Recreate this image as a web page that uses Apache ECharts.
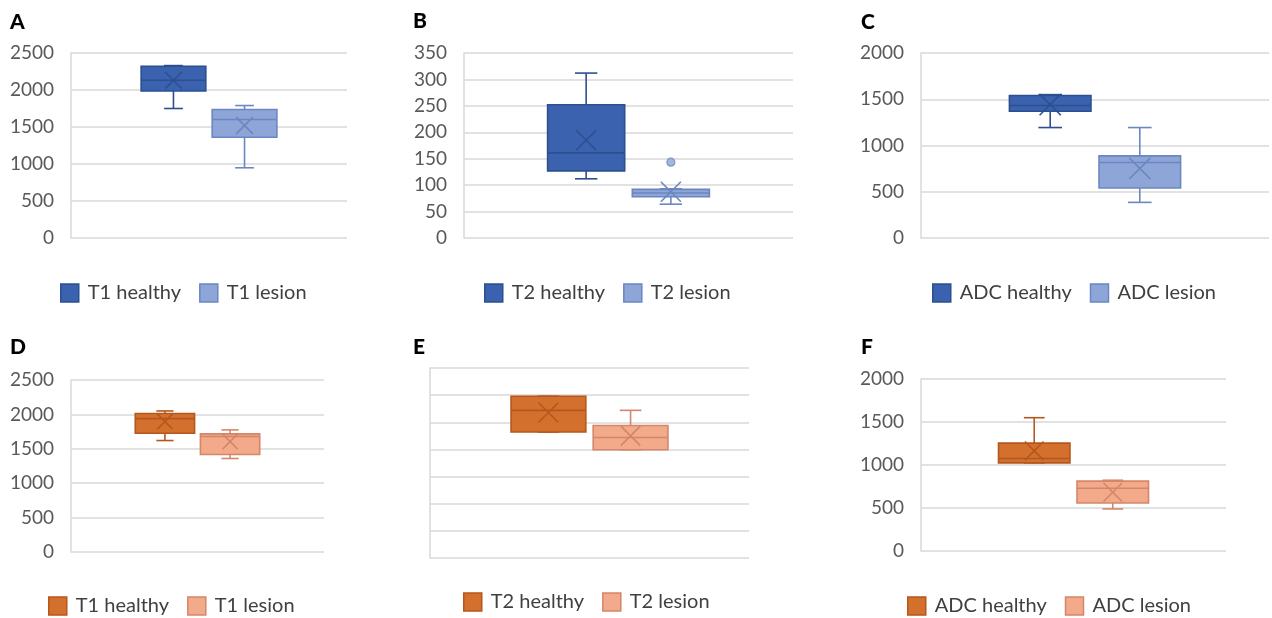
<!DOCTYPE html>
<html>
<head>
<meta charset="utf-8">
<script src="https://cdn.jsdelivr.net/npm/echarts@6/dist/echarts.min.js"></script>
<style>
  html, body { margin: 0; padding: 0; background: #ffffff; }
  #chart { width: 1272px; height: 618px; }
</style>
</head>
<body>
<div id="chart"></div>
<script>
// ---------------- DATA ----------------
const panelLabels = ['A', 'B', 'C', 'D', 'E', 'F'];
const seriesNames = [
  ['T1 healthy', 'T1 lesion'],
  ['T2 healthy', 'T2 lesion'],
  ['ADC healthy', 'ADC lesion'],
  ['T1 healthy', 'T1 lesion'],
  ['T2 healthy', 'T2 lesion'],
  ['ADC healthy', 'ADC lesion']
];
// each box: [min, Q1, median, Q3, max, mean]
const healthyStats = [
  [1750, 1987, 2131, 2320, 2330, 2130],
  [112, 127, 161, 252, 312, 185],
  [1194, 1370, 1432, 1540, 1550, 1442],
  [1620, 1726, 1939, 2012, 2050, 1896],
  [232, 232, 272, 298, 298, 268],
  [1025, 1025, 1076, 1254, 1550, 1165]
];
const lesionStats = [
  [949, 1362, 1601, 1736, 1790, 1520],
  [64, 78, 85, 92, 93, 87.5],
  [385, 540, 817, 888, 1194, 752],
  [1359, 1417, 1678, 1717, 1775, 1605],
  [199.5, 199.5, 222, 244, 272, 225],
  [489, 559, 730, 812, 823, 683]
];
// outliers per panel (lesion series)
const lesionOutliers = [[], [143.5], [], [], [], []];
// y axis ticks
const yMax = [2500, 350, 2000, 2500, 350, 2000];
const yStep = [500, 50, 500, 500, 50, 500];
const showYLabels = [true, true, true, true, false, true];

// ---------------- STYLE / LAYOUT ----------------
const FONT = 'Lato, "Open Sans", sans-serif';
const blue = {
  healthy: { fill: '#3a62ae', stroke: '#2d4f90' },
  lesion: { fill: '#8ea5d8', stroke: '#6b86c0' }
};
const orange = {
  healthy: { fill: '#d4702e', stroke: '#b4571c' },
  lesion: { fill: '#f2aa8a', stroke: '#d4866a' }
};
const palettes = [blue, blue, blue, orange, orange, orange];
// plot rectangles [left, right, top, bottom]
const plots = [
  [71, 347, 53, 238],
  [464, 793, 53, 238],
  [921, 1269, 53, 238],
  [71, 324, 380, 552],
  [430, 749, 368, 558],
  [921, 1226, 379, 551]
];
const titlePos = [[10, 12], [413, 11], [861, 12], [10, 337], [413, 337], [861, 337]];
const legendPos = [[60, 283], [484, 283], [932, 283], [48, 596], [463, 592], [907, 596]];

const BOX_SPAN = 0.515;  // fraction of plot width used by the two boxes
const BOX_RATIO = 0.91;  // box width relative to band

function makeRenderer(fill, stroke) {
  return function (params, api) {
    const cat = api.value(0);
    const band = api.size([1, 0])[0];
    const w = band * BOX_RATIO;
    const cx = api.coord([cat, 0])[0];
    const y = (v) => api.coord([cat, v])[1];
    const yMin = y(api.value(1)), yQ1 = y(api.value(2)), yMed = y(api.value(3));
    const yQ3 = y(api.value(4)), yMx = y(api.value(5)), yMean = y(api.value(6));
    const cap = w * 0.29;
    const xs = w * 0.13;
    const ls = { stroke: stroke, lineWidth: 1.6, fill: null };
    return {
      type: 'group',
      children: [
        { type: 'line', shape: { x1: cx, y1: yQ1, x2: cx, y2: yMin }, style: ls },
        { type: 'line', shape: { x1: cx, y1: yQ3, x2: cx, y2: yMx }, style: ls },
        { type: 'line', shape: { x1: cx - cap / 2, y1: yMin, x2: cx + cap / 2, y2: yMin }, style: ls },
        { type: 'line', shape: { x1: cx - cap / 2, y1: yMx, x2: cx + cap / 2, y2: yMx }, style: ls },
        { type: 'rect', shape: { x: cx - w / 2, y: yQ3, width: w, height: yQ1 - yQ3 },
          style: { fill: fill, stroke: stroke, lineWidth: 1.6 } },
        { type: 'line', shape: { x1: cx - w / 2, y1: yMed, x2: cx + w / 2, y2: yMed }, style: ls },
        { type: 'line', shape: { x1: cx - xs, y1: yMean - xs, x2: cx + xs, y2: yMean + xs }, style: ls },
        { type: 'line', shape: { x1: cx - xs, y1: yMean + xs, x2: cx + xs, y2: yMean - xs }, style: ls }
      ]
    };
  };
}

const grid = [], xAxis = [], yAxis = [], series = [], title = [], legend = [];

plots.forEach(function (p, i) {
  const [l, r, t, b] = p;
  const pw = r - l;
  const pal = palettes[i];
  // visible grid
  grid.push({ left: l, top: t, width: pw, height: b - t, containLabel: false });
  xAxis.push({ type: 'category', gridIndex: 2 * i, data: [''], axisLine: { show: false },
    axisTick: { show: false }, axisLabel: { show: false } });
  yAxis.push({ type: 'value', gridIndex: 2 * i, min: 0, max: yMax[i], interval: yStep[i],
    axisLine: { show: true, lineStyle: { color: '#d9d9d9', width: 1.5 } },
    axisTick: { show: false },
    axisLabel: { show: showYLabels[i], color: '#595959', fontSize: 19, fontFamily: FONT, margin: 17,
      formatter: function (v) { return String(v); } },
    splitLine: { show: true, lineStyle: { color: '#d9d9d9', width: 1.5 } } });
  // box grid
  const boxLeft = l + pw * (0.5 - BOX_SPAN / 2);
  grid.push({ left: boxLeft, top: t, width: pw * BOX_SPAN, height: b - t, containLabel: false });
  xAxis.push({ type: 'category', gridIndex: 2 * i + 1, data: ['healthy', 'lesion'], show: false });
  yAxis.push({ type: 'value', gridIndex: 2 * i + 1, min: 0, max: yMax[i], interval: yStep[i], show: false,
    splitLine: { show: false } });

  series.push({
    type: 'custom', name: seriesNames[i][0], xAxisIndex: 2 * i + 1, yAxisIndex: 2 * i + 1,
    itemStyle: { color: pal.healthy.fill, borderColor: pal.healthy.stroke },
    renderItem: makeRenderer(pal.healthy.fill, pal.healthy.stroke),
    encode: { x: 0, y: [1, 2, 3, 4, 5, 6] },
    data: [[0].concat(healthyStats[i])], silent: true
  });
  series.push({
    type: 'custom', name: seriesNames[i][1], xAxisIndex: 2 * i + 1, yAxisIndex: 2 * i + 1,
    itemStyle: { color: pal.lesion.fill, borderColor: pal.lesion.stroke },
    renderItem: makeRenderer(pal.lesion.fill, pal.lesion.stroke),
    encode: { x: 0, y: [1, 2, 3, 4, 5, 6] },
    data: [[1].concat(lesionStats[i])], silent: true
  });
  if (lesionOutliers[i].length) {
    series.push({
      type: 'scatter', xAxisIndex: 2 * i + 1, yAxisIndex: 2 * i + 1,
      symbol: 'circle', symbolSize: 8, silent: true,
      itemStyle: { color: pal.lesion.fill, borderColor: pal.lesion.stroke, borderWidth: 1.2 },
      data: lesionOutliers[i].map(function (v) { return [1, v]; })
    });
  }

  title.push({ text: panelLabels[i], left: titlePos[i][0], top: titlePos[i][1], padding: 0,
    textStyle: { fontFamily: FONT, fontWeight: 900, fontSize: 21, color: '#000000' } });

  legend.push({
    left: legendPos[i][0], top: legendPos[i][1], padding: 0,
    itemWidth: 18, itemHeight: 18, itemGap: 18, selectedMode: false,
    textStyle: { fontFamily: FONT, fontSize: 20, color: '#404040', padding: [0, 0, 0, 4] },
    data: [
      { name: seriesNames[i][0], icon: 'rect',
        itemStyle: { color: pal.healthy.fill, borderColor: pal.healthy.stroke, borderWidth: 1.5 } },
      { name: seriesNames[i][1], icon: 'rect',
        itemStyle: { color: pal.lesion.fill, borderColor: pal.lesion.stroke, borderWidth: 1.5 } }
    ]
  });
});

const chart = echarts.init(document.getElementById('chart'), null, { renderer: 'canvas' });
chart.setOption({
  backgroundColor: '#ffffff',
  animation: false,
  title: title,
  legend: legend,
  grid: grid,
  xAxis: xAxis,
  yAxis: yAxis,
  series: series
});
</script>
</body>
</html>
